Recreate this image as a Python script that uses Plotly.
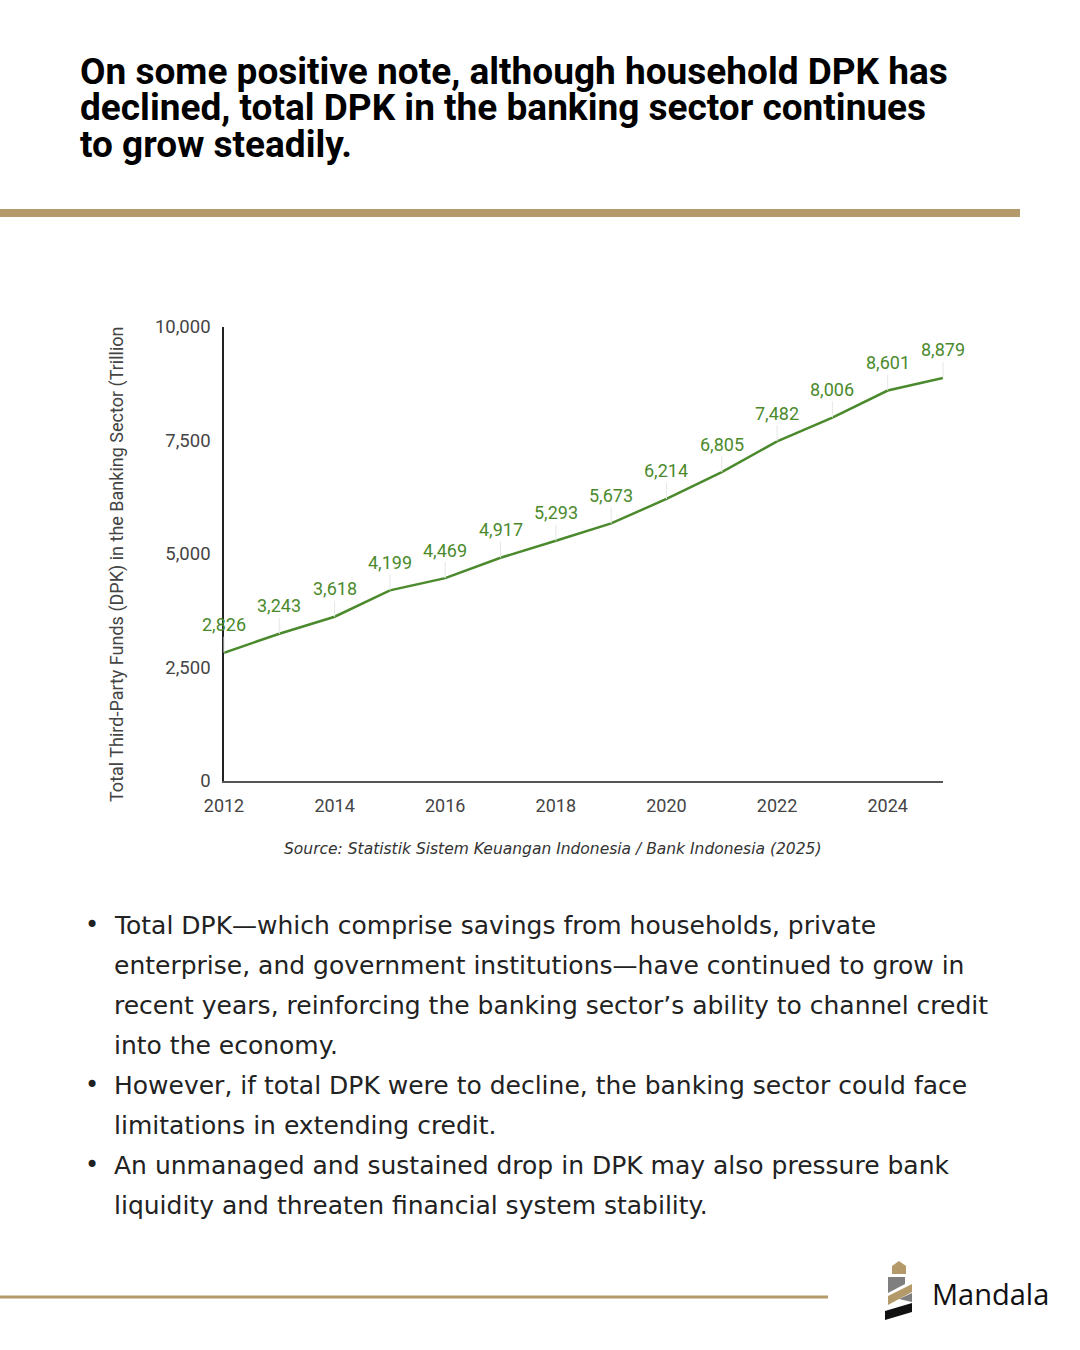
import plotly.graph_objects as go

# ---- data ----
years = [2012, 2013, 2014, 2015, 2016, 2017, 2018, 2019, 2020, 2021, 2022, 2023, 2024, 2025]
dpk_total = [2826, 3243, 3618, 4199, 4469, 4917, 5293, 5673, 6214, 6805, 7482, 8006, 8601, 8879]
x_ticks = [2012, 2014, 2016, 2018, 2020, 2022, 2024]
y_ticks = [0, 2500, 5000, 7500, 10000]
y_tick_labels = ["0", "2,500", "5,000", "7,500", "10,000"]

title_lines = [
    "On some positive note, although household DPK has",
    "declined, total DPK in the banking sector continues",
    "to grow steadily.",
]
bullet_lines = [
    ("•", "Total DPK—which comprise savings from households, private"),
    ("", "enterprise, and government institutions—have continued to grow in"),
    ("", "recent years, reinforcing the banking sector’s ability to channel credit"),
    ("", "into the economy."),
    ("•", "However, if total DPK were to decline, the banking sector could face"),
    ("", "limitations in extending credit."),
    ("•", "An unmanaged and sustained drop in DPK may also pressure bank"),
    ("", "liquidity and threaten financial system stability."),
]
source_text = "Source: Statistik Sistem Keuangan Indonesia / Bank Indonesia (2025)"
y_title = "Total Third-Party Funds (DPK) in the Banking Sector (Trillion"

W, H = 1080, 1350
GREEN = "#4b8a2c"
GOLD = "#b49a6b"


def px(x):
    return x / W


def py(y):
    return 1 - y / H


fig = go.Figure()
fig.add_trace(go.Scatter(
    x=years, y=dpk_total, mode="lines",
    line=dict(color=GREEN, width=2.5), hoverinfo="skip", showlegend=False,
))

annotations = []
# data labels with faint leader lines
for yr, v in zip(years, dpk_total):
    annotations.append(dict(
        x=yr, y=v, xref="x", yref="y", text=f"{v:,}",
        showarrow=True, arrowhead=0, arrowwidth=1, arrowcolor="#e6e6e6",
        ax=0, ay=-28, standoff=0,
        font=dict(family="Roboto", size=18, color=GREEN),
    ))

# y axis title
annotations.append(dict(
    x=px(117), y=py(564), xref="paper", yref="paper", text=y_title,
    textangle=-90, showarrow=False, xanchor="center", yanchor="middle",
    font=dict(family="Roboto", size=18, color="#444444"),
))

# title
for i, t in enumerate(title_lines):
    annotations.append(dict(
        x=px(78), y=py(71 + 37 * i), xref="paper", yref="paper", text=f"<b>{t}</b>",
        showarrow=False, xanchor="left", yanchor="middle",
        font=dict(family="Roboto", size=37, color="#000000"),
    ))

# source
annotations.append(dict(
    x=px(552), y=py(849), xref="paper", yref="paper", text=f"<i>{source_text}</i>",
    showarrow=False, xanchor="center", yanchor="middle",
    font=dict(family="DejaVu Sans", size=15.5, color="#333333"),
))

# bullets
for i, (b, t) in enumerate(bullet_lines):
    yy = py(925 + 40 * i)
    if b:
        annotations.append(dict(
            x=px(92), y=yy, xref="paper", yref="paper", text=b, showarrow=False,
            xanchor="center", yanchor="middle",
            font=dict(family="DejaVu Sans", size=24, color="#222222"),
        ))
    annotations.append(dict(
        x=px(112), y=yy, xref="paper", yref="paper", text=t, showarrow=False,
        xanchor="left", yanchor="middle",
        font=dict(family="DejaVu Sans", size=25, color="#222222"),
    ))

# brand name
annotations.append(dict(
    x=px(930), y=py(1293), xref="paper", yref="paper", text="Mandala", showarrow=False,
    xanchor="left", yanchor="middle",
    font=dict(family="Open Sans", size=29, color="#111111"),
))

shapes = [
    dict(type="rect", xref="paper", yref="paper", x0=0, x1=px(1020), y0=py(217), y1=py(209),
         fillcolor=GOLD, line=dict(width=0)),
    dict(type="line", xref="paper", yref="paper", x0=0, x1=px(828), y0=py(1297), y1=py(1297),
         line=dict(color=GOLD, width=3)),
]


def poly(points, color):
    d = "M " + " L ".join(f"{px(a):.5f},{py(b):.5f}" for a, b in points) + " Z"
    return dict(type="path", xref="paper", yref="paper", path=d,
                fillcolor=color, line=dict(width=0))


shapes += [
    poly([(892, 1274), (892, 1266), (899, 1261), (906, 1266), (906, 1274)], GOLD),
    poly([(888, 1277), (905, 1277), (905, 1284), (888, 1293)], "#7f7f7f"),
    poly([(888, 1305), (888, 1296), (912, 1284), (912, 1292)], GOLD),
    poly([(899, 1299), (912, 1293), (912, 1302)], "#7f7f7f"),
    poly([(885, 1320), (885, 1311), (912, 1303), (912, 1312)], "#111111"),
]

fig.update_layout(
    width=W, height=H,
    margin=dict(l=0, r=0, t=0, b=0, pad=0),
    paper_bgcolor="white", plot_bgcolor="white",
    showlegend=False,
    xaxis=dict(
        domain=[px(224), px(943)], range=[2012, 2025], automargin=False,
        tickvals=x_ticks, ticktext=[str(v) for v in x_ticks],
        showgrid=False, zeroline=False, showline=True, linecolor="#555555", linewidth=1.5,
        ticks="", ticklabelstandoff=8,
        tickfont=dict(family="Roboto", size=18, color="#444444"),
    ),
    yaxis=dict(
        domain=[py(781), py(327)], range=[0, 10000], automargin=False,
        tickvals=y_ticks, ticktext=y_tick_labels,
        showgrid=False, zeroline=False, showline=True, linecolor="#222222", linewidth=1.5,
        ticks="", ticklabelstandoff=8,
        tickfont=dict(family="Roboto", size=18.5, color="#444444"),
    ),
    annotations=annotations,
    shapes=shapes,
)

fig.write_html(
    "out.html",
    config={"displayModeBar": False},
    post_script="document.body.style.margin='0';document.body.style.padding='0';",
)
